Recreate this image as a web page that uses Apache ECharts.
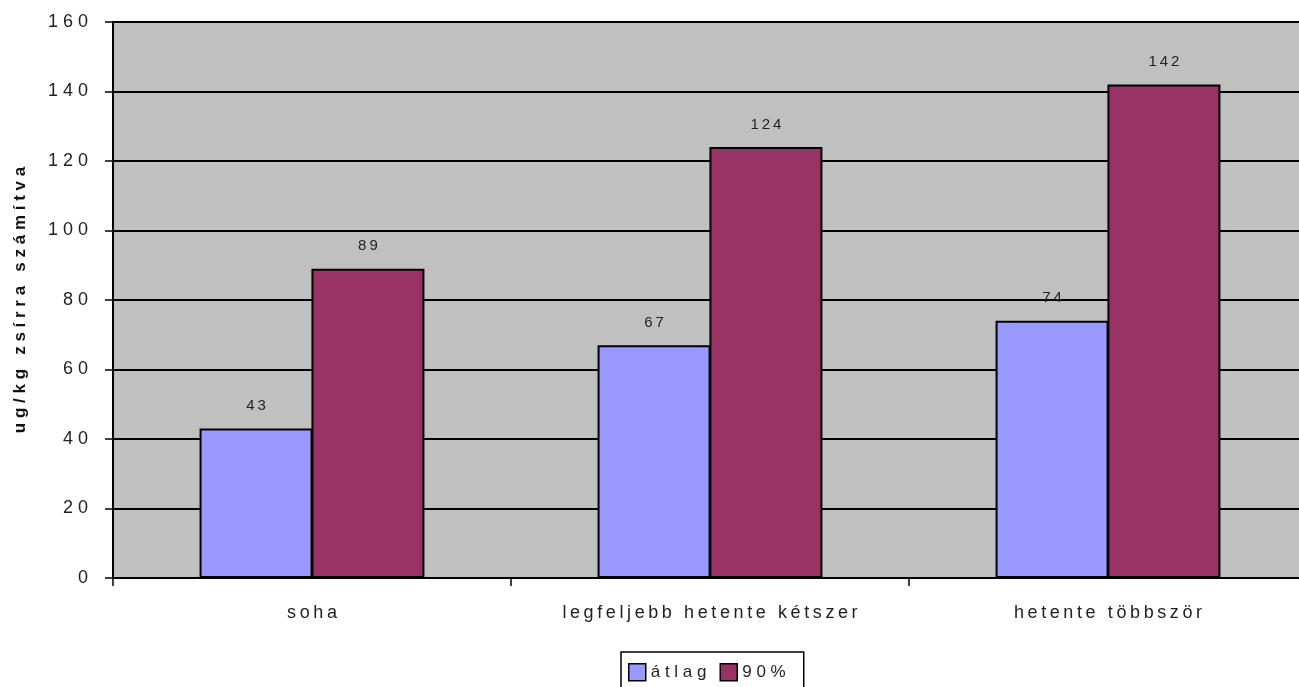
<!DOCTYPE html>
<html>
<head>
<meta charset="utf-8">
<script src="https://cdn.jsdelivr.net/npm/echarts@6/dist/echarts.min.js"></script>
<style>
  html, body { margin: 0; padding: 0; background: #ffffff; overflow: hidden; }
  #chart { width: 1320px; height: 687px; }
</style>
</head>
<body>
<div id="chart"></div>
<script>
// Chart data
const categories = ['soha', 'legfeljebb hetente kétszer', 'hetente többször'];
const atlagValues = [43, 67, 74];
const p90Values = [89, 124, 142];
const seriesNames = ['átlag', '90%'];
const yAxisTitle = 'ug/kg zsírra számítva';
const yTicks = [0, 20, 40, 60, 80, 100, 120, 140, 160];

// Spread characters apart (tracking effect)
const THIN = '\u2009';
function track(s, sep) { return String(s).split('').join(sep || THIN); }

const FONT = '"Liberation Sans", Arial, sans-serif';

const chart = echarts.init(document.getElementById('chart'), null, { renderer: 'canvas' });

const labelCfg = {
  show: true,
  position: 'top',
  distance: 15,
  color: '#222',
  fontFamily: FONT,
  fontSize: 15,
  formatter: p => track(p.value)
};

chart.setOption({
  animation: false,
  backgroundColor: '#ffffff',
  grid: {
    left: 113, top: 22, width: 1194, height: 556,
    show: true, backgroundColor: '#c0c0c0', borderColor: '#808080', borderWidth: 2
  },
  xAxis: {
    type: 'category',
    data: categories,
    axisLine: { lineStyle: { color: '#000', width: 2 } },
    axisTick: { show: true, interval: 0, length: 8, inside: false, lineStyle: { color: '#000', width: 1.5 } },
    axisLabel: {
      interval: 0,
      margin: 26, color: '#222', fontFamily: FONT, fontSize: 18,
      formatter: v => track(v)
    }
  },
  yAxis: {
    type: 'value',
    min: yTicks[0], max: yTicks[yTicks.length - 1], interval: 20,
    name: track(yAxisTitle, ' '),
    nameLocation: 'middle',
    nameGap: 84,
    nameRotate: 90,
    nameTextStyle: { color: '#111', fontFamily: FONT, fontSize: 17, fontWeight: 'bold' },
    axisLine: { show: true, lineStyle: { color: '#000', width: 2 } },
    axisTick: { show: true, length: 8, inside: false, lineStyle: { color: '#000', width: 1.5 } },
    axisLabel: {
      margin: 25, color: '#222', fontFamily: FONT, fontSize: 18,
      formatter: v => track(v, ' ')
    },
    splitLine: { show: true, lineStyle: { color: '#000', width: 2 } }
  },
  legend: {
    data: seriesNames,
    left: 621,
    top: 652,
    padding: [11, 18, 20, 7],
    borderColor: '#000',
    borderWidth: 1.5,
    itemWidth: 17,
    itemHeight: 17,
    itemGap: 13,
    icon: 'rect',
    formatter: n => track(n, ' '),
    itemStyle: { borderColor: '#000', borderWidth: 1.5 },
    textStyle: { color: '#222', fontFamily: FONT, fontSize: 17 }
  },
  series: [
    {
      name: seriesNames[0],
      type: 'bar',
      data: atlagValues,
      barWidth: 113,
      barGap: '-1%',
      itemStyle: { color: '#9999ff', borderColor: '#000', borderWidth: 2 },
      label: labelCfg
    },
    {
      name: seriesNames[1],
      type: 'bar',
      data: p90Values,
      barWidth: 113,
      itemStyle: { color: '#993366', borderColor: '#000', borderWidth: 2 },
      label: labelCfg
    }
  ]
});
</script>
</body>
</html>
